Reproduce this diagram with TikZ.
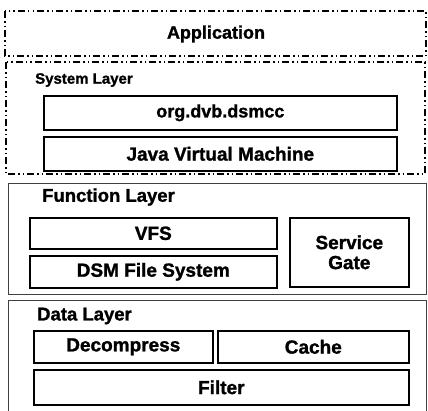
\documentclass[tikz,border=0pt]{standalone}
\usepackage{fontspec}
\setmainfont{Liberation Sans}[BoldFeatures={FakeBold=1.3}]
\begin{document}
\begin{tikzpicture}[x=1pt,y=-1pt,
  dashdot/.style={draw=black, line width=1.6pt, dash pattern=on 7pt off 3pt on 1.5pt off 3pt on 1.5pt off 3pt},
  layer/.style={draw=black!75, line width=0.9pt},
  box/.style={draw=black, line width=1.6pt, rectangle, anchor=north west, inner sep=0pt,
    font=\fontsize{19}{21}\selectfont\bfseries, align=center},
  lbl/.style={anchor=west, inner sep=0pt, font=\fontsize{18.5}{21}\selectfont\bfseries}]
\useasboundingbox (0,0) rectangle (428,410);
% layers
\draw[dashdot] (5,11) rectangle (426,56);
\node[font=\fontsize{18}{20}\selectfont\bfseries] (app) at (216,34) {Application};
\draw[dashdot] (6,62) rectangle (425,174);
\draw[layer] (8,183) rectangle (426,294);
\draw[layer] (8,300) rectangle (426,420);
% labels
\node[lbl, font=\fontsize{15}{17}\selectfont\bfseries] (sys) at (35,80) {System Layer};
\node[lbl] (fun) at (42,197) {Function Layer};
\node[lbl] (dat) at (37,316) {Data Layer};
% system layer boxes
\node[box, minimum width=353pt, minimum height=34pt, font=\fontsize{18}{20}\selectfont\bfseries] (org) at (43,95) {org.dvb.dsmcc};
\node[box, minimum width=353pt, minimum height=34pt] (jvm) at (43,136) {Java Virtual Machine};
% function layer boxes
\node[box, minimum width=247pt, minimum height=31pt] (vfs) at (29,217) {VFS};
\node[box, minimum width=247pt, minimum height=32pt] (dsm) at (29,255) {DSM File System};
\node[box, minimum width=119pt, minimum height=69pt] (sg) at (289,217) {Service\\[-1pt]Gate};
% data layer boxes
\node[box, minimum width=179pt, minimum height=32pt] (dec) at (33,330) {Decompress};
\node[box, minimum width=191pt, minimum height=32pt] (cache) at (217,330) {Cache};
\node[box, minimum width=375pt, minimum height=35pt] (filter) at (33,369) {Filter};
\end{tikzpicture}
\end{document}
